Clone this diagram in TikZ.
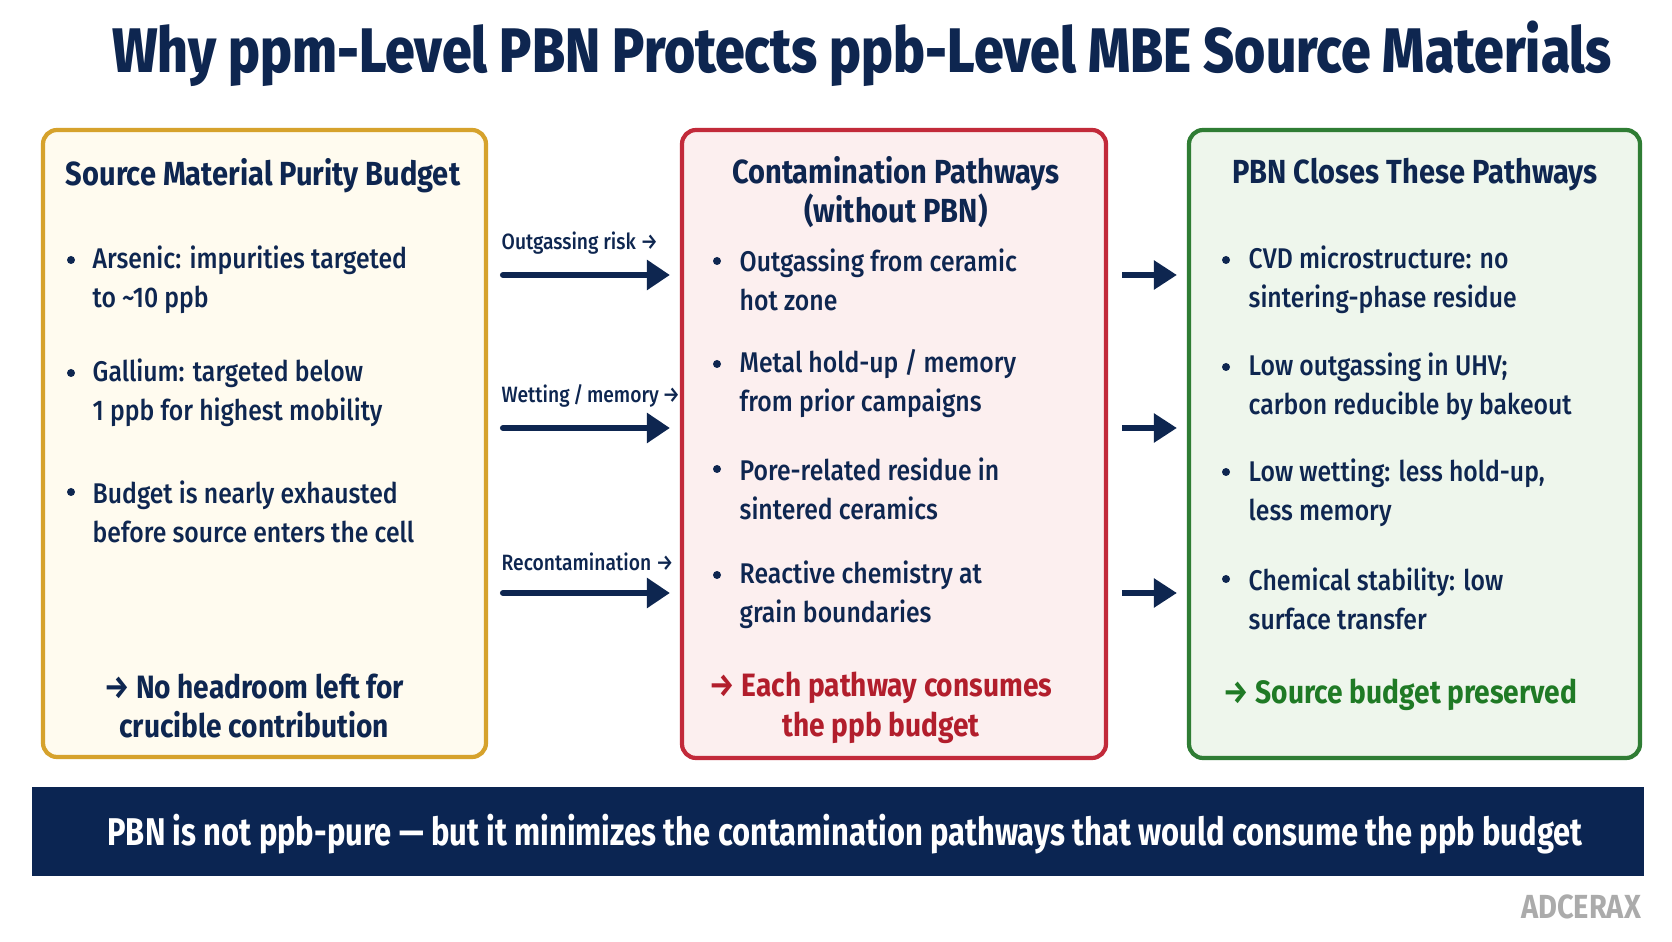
\documentclass[tikz,border=0pt]{standalone}
\usepackage{fontspec}
\setmainfont{Fira Sans}[UprightFont={* Medium}, BoldFont={* Bold}, FakeStretch=0.87]
\newfontfamily\titlefont{Fira Sans}[UprightFont={* ExtraBold}, FakeStretch=0.85]
\newfontfamily\bannerfont{Fira Sans}[UprightFont={* Bold}, FakeStretch=0.8]
\usetikzlibrary{arrows.meta,positioning}
\definecolor{Navy}{HTML}{0E2650}
\definecolor{BannerBlue}{HTML}{0B2552}
\definecolor{Gold}{HTML}{D6A22C}
\definecolor{Cream}{HTML}{FFFBEF}
\definecolor{Crimson}{HTML}{C22A3A}
\definecolor{Blush}{HTML}{FCEFEF}
\definecolor{Forest}{HTML}{2F7D34}
\definecolor{Mint}{HTML}{EEF6EC}
\definecolor{RedText}{HTML}{B21E2C}
\definecolor{GreenText}{HTML}{1F7A25}
\definecolor{MarkGray}{HTML}{ABABAB}

\begin{document}
\begin{tikzpicture}[
    panel/.style={draw, line width=1.2pt, rounded corners=4pt},
    paneltitle/.style={font=\fontsize{9.5}{11.2}\selectfont\bfseries, text=Navy, align=center},
    item/.style={font=\fontsize{8.1}{11.1}\selectfont, text=Navy, align=left, anchor=west, inner sep=0pt},
    verdict/.style={font=\fontsize{9.2}{11.2}\selectfont\bfseries, align=center, inner sep=0pt},
    flowlabel/.style={font=\fontsize{6.3}{8}\selectfont, text=Navy, anchor=west, inner sep=0pt},
    fatarrow/.style={-{Triangle[length=0.23cm, width=0.29cm]}, line width=1.8pt, Navy, line cap=round},
    slimarrow/.style={-{Triangle[length=0.23cm, width=0.28cm]}, line width=1.6pt, Navy}
]
    \useasboundingbox (0,0) rectangle (16.72,9.41);
    \fill[white] (0,0) rectangle (16.72,9.41);

    % Title
    \node[font=\titlefont\fontsize{17.9}{21}\selectfont, text=Navy] (title) at (8.62,8.87) {Why ppm-Level PBN Protects ppb-Level MBE Source Materials};

    % Panel 1: purity budget
    \node[panel, draw=Gold, fill=Cream, minimum width=4.43cm, minimum height=6.27cm] (budget) at (2.645,4.975) {};
    \node[paneltitle] (budgettitle) at (2.63,7.65) {Source Material Purity Budget};
    \fill[Navy] (0.71,6.81) circle (0.04);
    \node[item] (arsenic) at (0.92,6.615) {Arsenic: impurities targeted\\to \textasciitilde10 ppb};
    \fill[Navy] (0.71,5.68) circle (0.04);
    \node[item] (gallium) at (0.92,5.48) {Gallium: targeted below\\1 ppb for highest mobility};
    \fill[Navy] (0.71,4.49) circle (0.04);
    \node[item] (exhausted) at (0.92,4.295) {Budget is nearly exhausted\\before source enters the cell};
    \node[verdict, text=Navy] (noroom) at (2.54,2.35) {→ No headroom left for\\crucible contribution};

    % Panel 2: contamination pathways
    \node[panel, draw=Crimson, fill=Blush, minimum width=4.24cm, minimum height=6.28cm] (paths) at (8.94,4.97) {};
    \node[paneltitle] (pathstitle) at (8.96,7.49) {Contamination Pathways\\(without PBN)};
    \fill[Navy] (7.17,6.80) circle (0.04);
    \node[item] (outgas) at (7.39,6.61) {Outgassing from ceramic\\hot zone};
    \fill[Navy] (7.17,5.77) circle (0.04);
    \node[item] (holdup) at (7.39,5.575) {Metal hold-up / memory\\from prior campaigns};
    \fill[Navy] (7.17,4.72) circle (0.04);
    \node[item] (pores) at (7.39,4.52) {Pore-related residue in\\sintered ceramics};
    \fill[Navy] (7.17,3.66) circle (0.04);
    \node[item] (reactive) at (7.39,3.465) {Reactive chemistry at\\grain boundaries};
    \node[verdict, text=RedText] (consumes) at (8.81,2.33) {→ Each pathway consumes\\the ppb budget};

    % Panel 3: what PBN closes
    \node[panel, draw=Forest, fill=Mint, minimum width=4.51cm, minimum height=6.28cm] (closes) at (14.145,4.97) {};
    \node[paneltitle] (closestitle) at (14.15,7.66) {PBN Closes These Pathways};
    \fill[Navy] (12.26,6.81) circle (0.04);
    \node[item] (cvd) at (12.48,6.615) {CVD microstructure: no\\sintering-phase residue};
    \fill[Navy] (12.26,5.74) circle (0.04);
    \node[item] (uhv) at (12.48,5.545) {Low outgassing in UHV;\\carbon reducible by bakeout};
    \fill[Navy] (12.26,4.69) circle (0.04);
    \node[item] (wetting) at (12.48,4.485) {Low wetting: less hold-up,\\less memory};
    \fill[Navy] (12.26,3.62) circle (0.04);
    \node[item] (stability) at (12.48,3.425) {Chemical stability: low\\surface transfer};
    \node[verdict, text=GreenText, anchor=west] (preserved) at (12.23,2.46) {→ Source budget preserved};

    % Flow arrows
    \coordinate (rowA) at (0,6.66);
    \coordinate (rowB) at (0,5.13);
    \coordinate (rowC) at (0,3.48);
    \node[flowlabel] (riskA) at (5.01,6.98) {Outgassing risk →};
    \node[flowlabel] (riskB) at (5.01,5.45) {Wetting\,/\,memory\,→};
    \node[flowlabel] (riskC) at (5.01,3.79) {Recontamination →};
    \foreach \r in {rowA,rowB,rowC} {
        \draw[fatarrow, shorten <=0.15cm, shorten >=0.10cm] (budget.east |- \r) -- (paths.west |- \r);
        \draw[slimarrow, shorten <=0.14cm, shorten >=0.10cm] (paths.east |- \r) -- (closes.west |- \r);
    }

    % Bottom banner
    \node[fill=BannerBlue, minimum width=16.12cm, minimum height=0.89cm, inner sep=0pt] (banner) at (8.38,1.095) {};
    \node[font=\bannerfont\fontsize{11}{13}\selectfont, text=white] (message) at (8.45,1.07) {PBN is not ppb-pure — but it minimizes the contamination pathways that would consume the ppb budget};

    \node[font=\fontsize{9.5}{11}\selectfont\bfseries, text=MarkGray] (brand) at (15.81,0.34) {ADCERAX};
\end{tikzpicture}
\end{document}
